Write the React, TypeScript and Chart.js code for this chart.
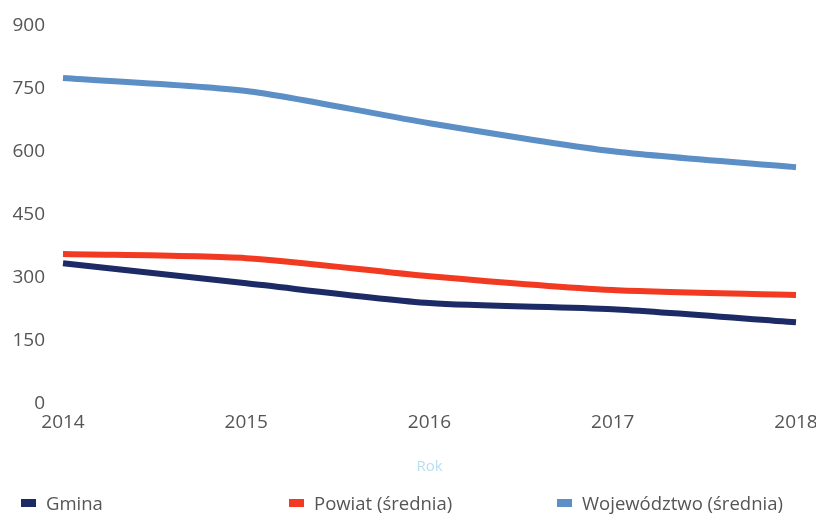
import React, { useEffect, useRef } from "react";
import { Chart, registerables } from "chart.js";

Chart.register(...registerables);

const years = ["2014", "2015", "2016", "2017", "2018"];
const gmina = [334, 286, 239, 224, 193];
const powiat = [356, 346, 303, 270, 258];
const wojewodztwo = [776, 745, 668, 601, 563];

const seriesNames = ["Gmina", "Powiat (średnia)", "Województwo (średnia)"];
const seriesColors = ["#1c2b66", "#f23a23", "#5b8fc6"];
const axisTitle = "Rok";

const FONT = "'Open Sans', 'Noto Sans', sans-serif";

export default function App() {
  const ref = useRef<HTMLCanvasElement | null>(null);

  useEffect(() => {
    if (!ref.current) return;
    const values = [gmina, powiat, wojewodztwo];
    const chart = new Chart(ref.current, {
      type: "line",
      data: {
        labels: years,
        datasets: values.map((v, i) => ({
          label: seriesNames[i],
          data: v,
          borderColor: seriesColors[i],
          backgroundColor: seriesColors[i],
          borderWidth: 6,
          pointRadius: 0,
          tension: 0.25,
          fill: false,
        })),
      },
      options: {
        animation: false,
        responsive: true,
        maintainAspectRatio: false,
        layout: { padding: { left: 4, right: 0, top: 18, bottom: 22 } },
        plugins: {
          legend: { display: false },
          tooltip: { enabled: false },
        },
        scales: {
          x: {
            offset: false,
            grid: { display: false, drawTicks: false },
            border: { display: false },
            ticks: {
              color: "#555555",
              font: { family: FONT, size: 19 },
              padding: 8,
              maxRotation: 0,
            },
            title: {
              display: true,
              text: axisTitle,
              color: "#b9def2",
              font: { family: FONT, size: 15 },
              padding: { top: 16, bottom: 0 },
            },
            afterFit: (s: any) => {
              s.paddingLeft = 0;
              s.paddingRight = 20;
            },
          },
          y: {
            min: 0,
            max: 900,
            grid: { display: false, drawTicks: false },
            border: { display: false },
            ticks: {
              stepSize: 150,
              color: "#555555",
              font: { family: FONT, size: 19 },
              padding: 18,
            },
            afterFit: (s: any) => {
              s.width = 51;
              s.paddingTop = 0;
              s.paddingBottom = 0;
            },
          },
        },
      },
    });
    return () => chart.destroy();
  }, []);

  return (
    <div style={{ position: "relative", width: 808, height: 508, fontFamily: FONT }}>
      <div style={{ position: "relative", height: 490 }}>
        <canvas ref={ref} />
      </div>
      <div
        style={{
          position: "absolute",
          left: 0,
          top: 486,
          width: 808,
          display: "grid",
          gridTemplateColumns: "268px 268px 1fr",
          height: 18,
          alignItems: "center",
        }}
      >
        {seriesNames.map((n, i) => (
          <div
            key={n}
            style={{
              paddingLeft: 13,
              display: "flex",
              alignItems: "center",
              color: "#555555",
              fontSize: 18.5,
              lineHeight: "18px",
              whiteSpace: "nowrap",
            }}
          >
            <span
              style={{
                display: "inline-block",
                width: 15,
                height: 8,
                background: seriesColors[i],
                marginRight: 10,
              }}
            />
            {n}
          </div>
        ))}
      </div>
    </div>
  );
}
